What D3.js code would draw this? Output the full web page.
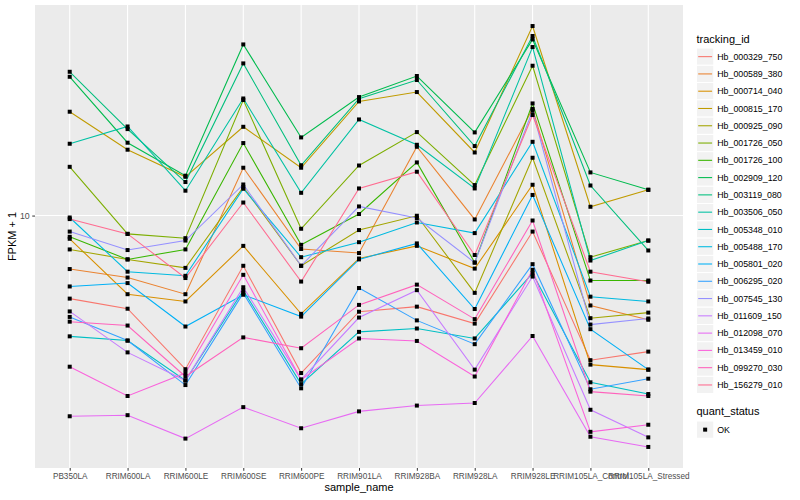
<!DOCTYPE html>
<html><head><meta charset="utf-8">
<script src="https://cdn.jsdelivr.net/npm/d3@7/dist/d3.min.js"></script>
<style>body{margin:0;background:#fff;} svg{display:block;} text{font-family:"Liberation Sans",Arial,Helvetica,sans-serif;}</style>
</head><body><svg id="c" width="800" height="500"></svg>
<script>
const samples = ["PB350LA","RRIM600LA","RRIM600LE","RRIM600SE","RRIM600PE","RRIM901LA","RRIM928BA","RRIM928LA","RRIM928LE","RRIM105LA_Control","RRIM105LA_Stressed"];
const trackingIds = ["Hb_000329_750","Hb_000589_380","Hb_000714_040","Hb_000815_170","Hb_000925_090","Hb_001726_050","Hb_001726_100","Hb_002909_120","Hb_003119_080","Hb_003506_050","Hb_005348_010","Hb_005488_170","Hb_005801_020","Hb_006295_020","Hb_007545_130","Hb_011609_150","Hb_012098_070","Hb_013459_010","Hb_099270_030","Hb_156279_010"];
const colors = ["#F8766D","#EA8331","#D89000","#C09B00","#A3A500","#7CAE00","#39B600","#00BB4E","#00BF7D","#00C1A3","#00BFC4","#00BAE0","#00B0F6","#35A2FF","#9590FF","#C77CFF","#E76BF3","#FA62DB","#FF62BC","#FF6C91"];
const yTicks = [10];
// FPKM + 1 per tracking_id, in sample order
const fpkm_000329_750 = [6.20,5.85,4.13,7.49,4.04,5.75,5.92,5.37,9.12,4.35,4.57];
const fpkm_000589_380 = [7.35,7.00,6.36,13.17,8.25,8.06,14.86,9.78,18.49,5.96,5.49];
const fpkm_000714_040 = [8.75,6.36,6.10,8.40,5.68,7.81,8.40,7.37,11.94,4.24,4.12];
const fpkm_000815_170 = [18.18,14.61,12.50,16.67,13.17,19.29,20.36,14.38,29.77,10.52,11.60];
const fpkm_000925_090 = [8.23,7.77,7.40,11.78,7.49,9.20,9.99,6.41,13.95,5.54,5.72];
const fpkm_001726_050 = [13.24,9.00,8.78,19.45,9.27,13.34,16.17,11.92,23.69,7.87,8.66];
const fpkm_001726_100 = [8.85,7.77,8.23,15.18,8.45,10.09,13.58,7.63,19.07,6.88,6.88];
const fpkm_002909_120 = [22.23,15.21,12.58,26.78,15.68,19.78,22.33,16.14,27.56,12.82,11.60];
const fpkm_003119_080 = [22.88,16.45,12.13,24.01,13.36,19.59,21.82,14.92,28.11,11.89,8.18];
const fpkm_003506_050 = [15.12,16.70,11.54,19.62,11.40,17.39,15.03,11.69,26.38,7.72,8.66];
const fpkm_005348_010 = [4.99,4.87,3.87,6.50,3.79,5.12,5.22,4.93,7.18,3.83,3.58];
const fpkm_005488_170 = [9.89,7.24,7.07,11.67,7.87,8.58,9.61,9.04,15.29,6.27,6.10];
const fpkm_005801_020 = [6.65,6.78,5.28,6.34,5.59,7.77,8.52,5.84,11.26,5.20,4.12];
const fpkm_006295_020 = [5.58,4.87,3.77,6.40,3.70,6.59,5.47,4.77,7.56,3.68,3.91];
const fpkm_007545_130 = [9.12,8.20,8.66,11.96,7.49,10.54,9.86,7.63,18.28,5.34,5.53];
const fpkm_011609_150 = [5.76,4.55,3.87,6.62,3.89,5.56,6.51,4.12,7.04,3.27,2.79];
const fpkm_012098_070 = [3.15,3.17,2.77,3.32,2.94,3.24,3.35,3.40,5.00,2.80,2.64];
const fpkm_013459_010 = [4.19,3.54,4.04,7.11,3.89,4.93,4.86,3.96,7.32,2.88,3.00];
const fpkm_099270_030 = [5.43,5.31,3.96,4.96,4.66,5.98,6.72,5.51,9.72,3.63,3.54];
const fpkm_156279_010 = [9.80,9.00,6.98,10.78,6.84,11.69,12.87,7.97,17.84,7.24,6.83];
const seriesValues = [fpkm_000329_750,fpkm_000589_380,fpkm_000714_040,fpkm_000815_170,fpkm_000925_090,fpkm_001726_050,fpkm_001726_100,fpkm_002909_120,fpkm_003119_080,fpkm_003506_050,fpkm_005348_010,fpkm_005488_170,fpkm_005801_020,fpkm_006295_020,fpkm_007545_130,fpkm_011609_150,fpkm_012098_070,fpkm_013459_010,fpkm_099270_030,fpkm_156279_010];
const quantStatus = ["OK"];

const series = trackingIds.map((id,i)=>({id, color:colors[i], values:seriesValues[i].map((v,j)=>({s:samples[j], v}))}));

const svg = d3.select("#c");
const P = {l:35, r:683, t:5, b:468};
svg.append("rect").attr("width",800).attr("height",500).attr("fill","#fff");
svg.append("rect").attr("x",P.l).attr("y",P.t).attr("width",P.r-P.l).attr("height",P.b-P.t).attr("fill","#EBEBEB");

const x = d3.scalePoint().domain(samples).range([P.l,P.r]).padding(0.6);
const all = seriesValues.flat();
const lo = Math.log10(d3.min(all)), hi = Math.log10(d3.max(all)), pad=(hi-lo)*0.05;
const y = d3.scaleLog().domain([Math.pow(10,lo-pad), Math.pow(10,hi+pad)]).range([P.b,P.t]);

// grid
const g = svg.append("g");
g.selectAll(".vg").data(samples).enter().append("line")
 .attr("x1",d=>x(d)).attr("x2",d=>x(d)).attr("y1",P.t).attr("y2",P.b)
 .attr("stroke","#fff").attr("stroke-width",1.07);
g.selectAll(".hg").data(yTicks).enter().append("line")
 .attr("x1",P.l).attr("x2",P.r).attr("y1",d=>y(d)).attr("y2",d=>y(d))
 .attr("stroke","#fff").attr("stroke-width",1.07);

// lines
const line = d3.line().x(d=>x(d.s)).y(d=>y(d.v));
svg.append("g").selectAll("path").data(series).enter().append("path")
 .attr("d",d=>line(d.values)).attr("fill","none").attr("stroke",d=>d.color).attr("stroke-width",1.07);
// points
const pts = series.flatMap(s=>s.values);
svg.append("g").selectAll("rect").data(pts).enter().append("rect")
 .attr("x",d=>x(d.s)-2).attr("y",d=>y(d.v)-2).attr("width",4).attr("height",4).attr("fill","#000");

// axes
const xa = svg.append("g").attr("transform",`translate(0,${P.b})`)
 .call(d3.axisBottom(x).tickSize(2.75).tickPadding(2.5));
xa.select(".domain").remove();
xa.selectAll("line").attr("stroke","#333");
xa.selectAll("text").attr("fill","#4D4D4D").style("font-size","8.2px");
const ya = svg.append("g").attr("transform",`translate(${P.l},0)`)
 .call(d3.axisLeft(y).tickValues(yTicks).tickFormat(d3.format("d")).tickSize(2.75).tickPadding(2.5));
ya.select(".domain").remove();
ya.selectAll("line").attr("stroke","#333");
ya.selectAll("text").attr("fill","#4D4D4D").style("font-size","8.8px");

svg.append("text").attr("x",(P.l+P.r)/2).attr("y",491).attr("text-anchor","middle").style("font-size","11px").attr("fill","#000").text("sample_name");
svg.append("text").attr("transform",`translate(16,${(P.t+P.b)/2}) rotate(-90)`).attr("text-anchor","middle").style("font-size","11px").attr("fill","#000").text("FPKM + 1");

// legend
const L = svg.append("g");
const lx = 696.5, ly0 = 48, ks = 17.28;
L.append("text").attr("x",lx).attr("y",43).style("font-size","11px").text("tracking_id");
const items = L.selectAll(".it").data(series).enter().append("g").attr("transform",(d,i)=>`translate(${lx},${ly0+i*ks})`);
items.append("rect").attr("width",ks).attr("height",ks).attr("fill","#F2F2F2").attr("stroke","#fff").attr("stroke-width",1);
items.append("line").attr("x1",1.7).attr("x2",ks-1.7).attr("y1",ks/2).attr("y2",ks/2).attr("stroke",d=>d.color).attr("stroke-width",1.07);
items.append("text").attr("x",ks+3.5).attr("y",ks/2+3.1).style("font-size","8.8px").text(d=>d.id);
L.append("text").attr("x",lx).attr("y",414.5).style("font-size","11px").text("quant_status");
const q = L.selectAll(".q").data(quantStatus).enter().append("g").attr("transform",`translate(${lx},421)`);
q.append("rect").attr("width",ks).attr("height",ks).attr("fill","#F2F2F2").attr("stroke","#fff");
q.append("rect").attr("x",ks/2-2).attr("y",ks/2-2).attr("width",4).attr("height",4).attr("fill","#000");
q.append("text").attr("x",ks+3.5).attr("y",ks/2+3.1).style("font-size","8.8px").text(d=>d);
</script></body></html>
